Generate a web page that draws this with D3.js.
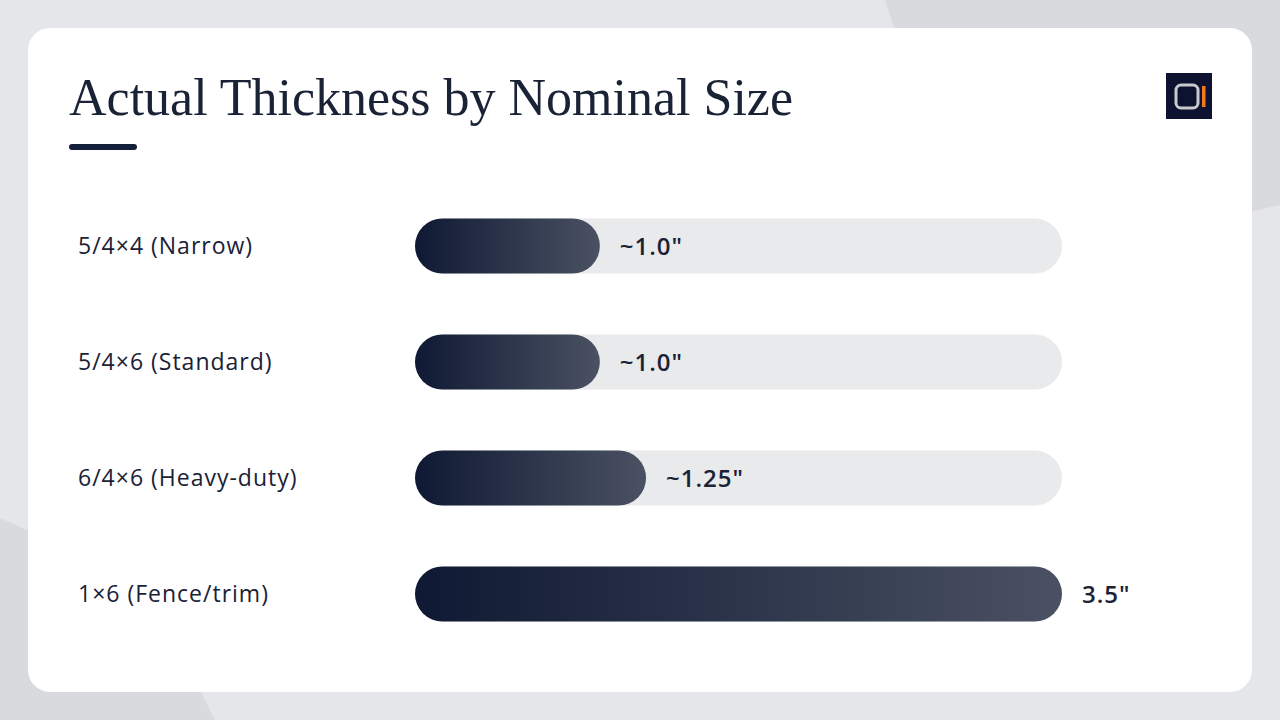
<!DOCTYPE html>
<html lang="en">
<head>
    <meta charset="UTF-8">
    <script src="https://cdn.jsdelivr.net/npm/d3@7"></script>
    <title>Actual Thickness by Nominal Size</title>
    <style>
        html, body {
            margin: 0;
            padding: 0;
            background: #e4e5e8;
        }
        svg { display: block; }
        .title {
            font-family: 'Liberation Serif', 'DejaVu Serif', serif;
            fill: #1a2236;
        }
        .label, .value {
            font-family: 'Open Sans', Lato, sans-serif;
            fill: #1a2236;
        }
        .label { letter-spacing: 1px; }
        .value { letter-spacing: 1px; }
    </style>
</head>
<body>
<div id="chart"></div>
<script>
    // Chart data
    const sizes = ["5/4×4 (Narrow)", "5/4×6 (Standard)", "6/4×6 (Heavy-duty)", "1×6 (Fence/trim)"];
    const thickness = [1.0, 1.0, 1.25, 3.5];
    const valueLabels = ["~1.0\"", "~1.0\"", "~1.25\"", "3.5\""];
    const axisMax = 3.5;

    const width = 1280, height = 720;

    const svg = d3.select("#chart").append("svg")
        .attr("width", width)
        .attr("height", height);

    const defs = svg.append("defs");
    const grad = defs.append("linearGradient")
        .attr("id", "barGrad")
        .attr("x1", "0%").attr("x2", "100%")
        .attr("y1", "0%").attr("y2", "0%");
    grad.append("stop").attr("offset", "0%").attr("stop-color", "#0f1933");
    grad.append("stop").attr("offset", "100%").attr("stop-color", "#4a5162");

    // background shapes
    svg.append("rect").attr("width", width).attr("height", height).attr("fill", "#e5e6e9");
    svg.append("path")
        .attr("d", "M885,0 L1280,0 L1280,205 L1250,212 L905,60 Z")
        .attr("fill", "#d9dadd");
    svg.append("path")
        .attr("d", "M0,518 L60,545 L200,690 L215,720 L0,720 Z")
        .attr("fill", "#d9dadd");

    // card
    svg.append("rect")
        .attr("x", 28).attr("y", 28)
        .attr("width", 1224).attr("height", 664)
        .attr("rx", 22)
        .attr("fill", "#ffffff");

    // title
    svg.append("text")
        .attr("class", "title")
        .attr("x", 69).attr("y", 115)
        .attr("font-size", 52)
        .text("Actual Thickness by Nominal Size");

    svg.append("rect")
        .attr("x", 69).attr("y", 144)
        .attr("width", 68).attr("height", 6)
        .attr("rx", 3)
        .attr("fill", "#14203a");

    // logo
    const logo = svg.append("g").attr("transform", "translate(1166,73)");
    logo.append("rect").attr("width", 46).attr("height", 46).attr("fill", "#0d1230");
    logo.append("rect")
        .attr("x", 10).attr("y", 12).attr("width", 22).attr("height", 23)
        .attr("rx", 5)
        .attr("fill", "none")
        .attr("stroke", "#c9cacd")
        .attr("stroke-width", 3);
    logo.append("rect")
        .attr("x", 36).attr("y", 13).attr("width", 3.5).attr("height", 21)
        .attr("fill", "#f07a1a");

    // scales
    const x = d3.scaleLinear().domain([0, axisMax]).range([415, 1062]);
    const y = d3.scaleBand().domain(sizes).range([188, 652]).paddingInner(0.526).paddingOuter(0.263);
    const barH = y.bandwidth();

    const rows = svg.append("g").selectAll("g")
        .data(sizes)
        .enter()
        .append("g")
        .attr("transform", d => `translate(0,${y(d)})`);

    rows.append("rect")
        .attr("x", x(0))
        .attr("width", x(axisMax) - x(0))
        .attr("height", barH)
        .attr("rx", barH / 2)
        .attr("fill", "#e9eaec");

    rows.append("rect")
        .attr("x", x(0))
        .attr("width", (d, i) => x(thickness[i]) - x(0))
        .attr("height", barH)
        .attr("rx", barH / 2)
        .attr("fill", "url(#barGrad)");

    rows.append("text")
        .attr("class", "label")
        .attr("x", 78)
        .attr("y", barH / 2)
        .attr("dy", "0.36em")
        .attr("font-size", 23)
        .text(d => d);

    rows.append("text")
        .attr("class", "value")
        .attr("x", (d, i) => x(thickness[i]) + 20)
        .attr("y", barH / 2)
        .attr("dy", "0.36em")
        .attr("font-size", 24)
        .attr("font-weight", 600)
        .text((d, i) => valueLabels[i]);
</script>
</body>
</html>
